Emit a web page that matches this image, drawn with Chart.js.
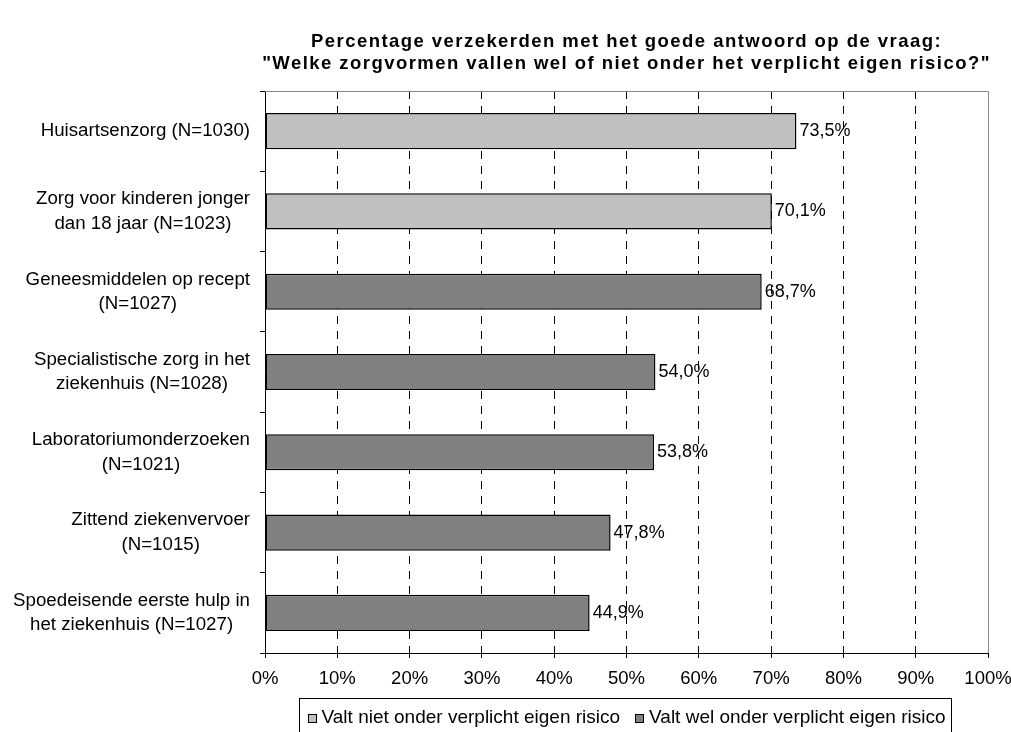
<!DOCTYPE html>
<html>
<head>
<meta charset="utf-8">
<script src="https://cdn.jsdelivr.net/npm/chart.js@4.4.0/dist/chart.umd.min.js"></script>
<style>
  html, body { margin: 0; padding: 0; background: #fff; }
  #wrap { width: 1011px; height: 732px; }
</style>
</head>
<body>
<div id="wrap"><canvas id="chart"></canvas></div>
<script>
// chart data
const titleLines = [
  "Percentage verzekerden met het goede antwoord op de vraag:",
  "\"Welke zorgvormen vallen wel of niet onder het verplicht eigen risico?\""
];
const categories = [
  ["Huisartsenzorg (N=1030)"],
  ["Zorg voor kinderen jonger", "dan 18 jaar (N=1023)"],
  ["Geneesmiddelen op recept", "(N=1027)"],
  ["Specialistische zorg in het", "ziekenhuis (N=1028)"],
  ["Laboratoriumonderzoeken", "(N=1021)"],
  ["Zittend ziekenvervoer", "(N=1015)"],
  ["Spoedeisende eerste hulp in", "het ziekenhuis (N=1027)"]
];
const seriesNames = ["Valt niet onder verplicht eigen risico", "Valt wel onder verplicht eigen risico"];
const nietValues = [73.5, 70.1, null, null, null, null, null];
const welValues = [null, null, 68.7, 54.0, 53.8, 47.8, 44.9];
const xMin = 0, xMax = 100, xStep = 10;

const FONT = '"Liberation Sans", Arial, sans-serif';
Chart.defaults.font.family = FONT;
Chart.defaults.color = "#000";

const pct = (v) => v.toFixed(1).replace(".", ",") + "%";

// title centered over the plot area
const titlePlugin = {
  id: "titleLines",
  afterDraw(chart) {
    const { ctx, chartArea } = chart;
    const cx = (chartArea.left + chartArea.right) / 2;
    ctx.save();
    ctx.font = "bold 18.5px " + FONT;
    ctx.letterSpacing = "1.45px";
    ctx.fillStyle = "#000";
    ctx.textAlign = "center";
    ctx.textBaseline = "middle";
    ctx.fillText(titleLines[0], cx, 42);
    ctx.fillText(titleLines[1], cx, 64);
    ctx.restore();
  }
};

// gray frame on top and right of plot area
const framePlugin = {
  id: "frame",
  beforeDatasetsDraw(chart) {
    const { ctx, chartArea: a } = chart;
    ctx.save();
    ctx.strokeStyle = "#888";
    ctx.lineWidth = 1;
    ctx.beginPath();
    ctx.moveTo(a.left, a.top + 0.5);
    ctx.lineTo(a.right + 0.5, a.top + 0.5);
    ctx.lineTo(a.right + 0.5, a.bottom);
    ctx.stroke();
    ctx.restore();
  }
};

// category labels, lines centered to each other, block right aligned
const yLabelPlugin = {
  id: "yLabels",
  afterDraw(chart) {
    const { ctx } = chart;
    const scale = chart.scales.y;
    const right = scale.right - 15;
    const lh = 24.5;
    ctx.save();
    ctx.font = "18.7px " + FONT;
    ctx.fillStyle = "#000";
    ctx.textAlign = "center";
    ctx.textBaseline = "middle";
    categories.forEach((lines, i) => {
      const w = Math.max(...lines.map((l) => ctx.measureText(l).width));
      const cx = right - w / 2;
      const cy = scale.getPixelForValue(i);
      const y0 = cy - ((lines.length - 1) * lh) / 2;
      lines.forEach((l, k) => ctx.fillText(l, cx, y0 + k * lh));
    });
    ctx.restore();
  }
};

// value labels at bar ends
const valuePlugin = {
  id: "values",
  afterDatasetsDraw(chart) {
    const { ctx } = chart;
    ctx.save();
    ctx.font = "18px " + FONT;
    ctx.fillStyle = "#000";
    ctx.textAlign = "left";
    ctx.textBaseline = "middle";
    chart.data.datasets.forEach((ds, i) => {
      chart.getDatasetMeta(i).data.forEach((bar, j) => {
        const v = ds.data[j];
        if (v == null) return;
        ctx.fillText(pct(v), bar.x + 3, bar.y);
      });
    });
    ctx.restore();
  }
};

// boxed legend under the x axis
const legendPlugin = {
  id: "boxLegend",
  afterDraw(chart) {
    const { ctx, chartArea: a } = chart;
    const box = 9, gap = 5, spacing = 15, padL = 9, padR = 5;
    ctx.save();
    ctx.font = "19px " + FONT;
    const items = chart.data.datasets.map((ds) => ({
      text: ds.label,
      color: ds.backgroundColor,
      w: box + gap + ctx.measureText(ds.label).width
    }));
    const total = items.reduce((s, it) => s + it.w, 0) + spacing * (items.length - 1);
    let x = (a.left + a.right) / 2 - total / 2;
    const top = a.bottom + 45;
    const cy = a.bottom + 65;
    ctx.strokeStyle = "#000";
    ctx.lineWidth = 1;
    ctx.strokeRect(Math.round(x - padL) + 0.5, top + 0.5, Math.round(total + padL + padR), 60);
    ctx.textBaseline = "middle";
    ctx.textAlign = "left";
    items.forEach((it) => {
      ctx.fillStyle = it.color;
      ctx.fillRect(Math.round(x), Math.round(cy - box / 2), box, box);
      ctx.strokeRect(Math.round(x) + 0.5, Math.round(cy - box / 2) + 0.5, box - 1, box - 1);
      ctx.fillStyle = "#000";
      ctx.fillText(it.text, x + box + gap, cy);
      x += it.w + spacing;
    });
    ctx.restore();
  }
};

new Chart(document.getElementById("chart"), {
  type: "bar",
  data: {
    labels: categories,
    datasets: [
      {
        label: seriesNames[0],
        data: nietValues,
        backgroundColor: "#C0C0C0",
        borderColor: "#000",
        borderWidth: 1.5,
        borderSkipped: false
      },
      {
        label: seriesNames[1],
        data: welValues,
        backgroundColor: "#808080",
        borderColor: "#000",
        borderWidth: 1.5,
        borderSkipped: false
      }
    ]
  },
  options: {
    indexAxis: "y",
    responsive: true,
    maintainAspectRatio: false,
    animation: false,
    barPercentage: 0.45,
    categoryPercentage: 1,
    layout: { padding: { top: 91, right: 23, bottom: 0, left: 0 } },
    plugins: {
      legend: { display: false },
      title: { display: false },
      tooltip: { enabled: false }
    },
    scales: {
      x: {
        stacked: true,
        min: xMin,
        max: xMax,
        ticks: {
          stepSize: xStep,
          callback: (v) => v + "%",
          font: { size: 18.5 },
          color: "#000",
          padding: 10,
          maxRotation: 0
        },
        grid: {
          color: (c) => (c.tick && (c.tick.value === xMin || c.tick.value === xMax)) ? "rgba(0,0,0,0)" : "#000",
          lineWidth: 1,
          tickColor: "#000",
          tickLength: 5
        },
        border: { color: "#000", width: 1, dash: [8, 7] },
        afterFit: (s) => {
          s.height = 79;
          s.paddingLeft = 0;
          s.paddingRight = 0;
        }
      },
      y: {
        stacked: true,
        ticks: { color: "rgba(0,0,0,0)", font: { size: 18 } },
        grid: {
          offset: true,
          drawOnChartArea: false,
          drawTicks: true,
          tickLength: 5,
          tickColor: "#000"
        },
        border: { color: "#000", width: 1 },
        afterFit: (s) => { s.width = 265; }
      }
    }
  },
  plugins: [titlePlugin, framePlugin, yLabelPlugin, valuePlugin, legendPlugin]
});
</script>
</body>
</html>
